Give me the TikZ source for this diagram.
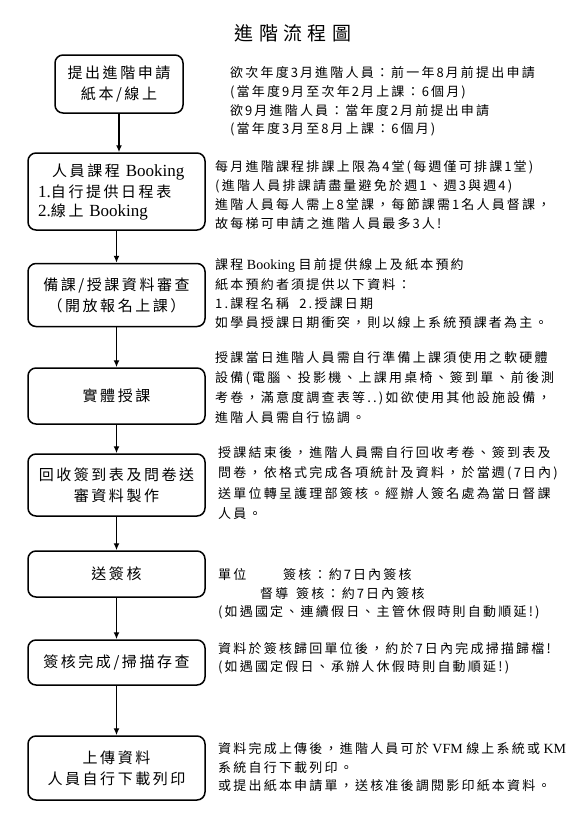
\documentclass[tikz,border=0pt]{standalone}
\usepackage{fontspec}
\setmainfont[LetterSpace=17]{Noto Sans CJK TC}
\newfontfamily\titlefont[LetterSpace=28]{Noto Sans CJK TC}
\newfontfamily\lat{Liberation Serif}
\usetikzlibrary{arrows.meta}
\newcommand\gp{\hspace{2pt}}
\begin{document}
\begin{tikzpicture}[x=1pt,y=-1pt,
  box/.style={draw=black, line width=1.5pt, rounded corners=8pt, inner sep=0pt,
    align=center, minimum width=177pt, font=\fontsize{15}{21}\selectfont},
  txt/.style={anchor=west, inner sep=0pt, font=\fontsize{13}{19}\selectfont},
  btxt/.style={anchor=west, inner sep=0pt, font=\fontsize{15}{21}\selectfont},
  arr/.style={line width=1.5pt, -{Latex[length=7pt,width=6pt]}}]
\useasboundingbox (0,0) rectangle (569,822);

\node[font=\titlefont\fontsize{19}{19}\selectfont, inner sep=0pt] (title) at (293,33) {進階流程圖};

% boxes
\node[box, minimum width=128pt, minimum height=58pt] (b1) at (119,84) {提出進階申請\\紙本/線上};
\node[box, minimum height=77pt] (b2) at (116.5,191.5) {};
\node[btxt] (b2a) at (52,172) {人員課程 {\lat\fontsize{17}{21}\selectfont Booking}};
\node[btxt] (b2b) at (38,192) {{\lat\fontsize{17}{21}\selectfont 1.}自行提供日程表};
\node[btxt] (b2c) at (38,212) {{\lat\fontsize{17}{21}\selectfont 2.}線上 {\lat\fontsize{17}{21}\selectfont Booking}};
\node[box, minimum height=63pt] (b3) at (116.5,295) {備課/授課資料審查\\（開放報名上課）};
\node[box, minimum height=56pt] (b4) at (116.5,396) {實體授課};
\node[box, minimum height=62pt] (b5) at (116.5,485) {回收簽到表及問卷送\\審資料製作};
\node[box, minimum height=46pt] (b6) at (116.5,574) {送簽核};
\node[box, minimum height=45pt] (b7) at (116.5,662.5) {簽核完成/掃描存查};
\node[box, minimum height=64pt] (b8) at (116.5,768) {上傳資料\\人員自行下載列印};

% arrows
\draw[arr] (b1.south) -- (b1.south |- b2.north);
\draw[arr] (b2.south) -- (b3.north);
\draw[arr] (b3.south) -- (b4.north);
\draw[arr] (b4.south) -- (b5.north);
\draw[arr] (b5.south) -- (b6.north);
\draw[arr] (b6.south) -- (b7.north);
\draw[arr] (b7.south) -- (b8.north);

% block 1
\node[txt] (t1a) at (230,73) {欲次年度\gp{}3\gp{}月進階人員\gp{}：前一年\gp{}8\gp{}月前提出申請};
\node[txt] (t1b) at (230,92) {(\gp{}當年度\gp{}9\gp{}月至次年\gp{}2\gp{}月上課：6\gp{}個月\gp{})};
\node[txt] (t1c) at (230,111) {欲\gp{}9\gp{}月進階人員\gp{}：當年度\gp{}2\gp{}月前提出申請};
\node[txt] (t1d) at (230,129) {(\gp{}當年度\gp{}3\gp{}月至\gp{}8\gp{}月上課：6\gp{}個月\gp{})};
% block 2
\node[txt] (t2a) at (215,167) {每月進階課程排課上限為\gp{}4\gp{}堂(每週僅可排課\gp{}1\gp{}堂)};
\node[txt] (t2b) at (215,186) {(進階人員排課請盡量避免於週\gp{}1、週\gp{}3\gp{}與週\gp{}4)};
\node[txt] (t2c) at (215,205) {進階人員每人需上\gp{}8\gp{}堂課，每節課需\gp{}1\gp{}名人員督課，};
\node[txt] (t2d) at (215,224) {故每梯可申請之進階人員最多\gp{}3\gp{}人!};
% block 3
\node[txt] (t3a) at (215,266) {課程{\lat\fontsize{14}{19}\selectfont\ Booking\ }目前提供線上及紙本預約};
\node[txt] (t3b) at (215,285) {紙本預約者須提供以下資料：};
\node[txt] (t3c) at (215,304) {1.課程名稱\ \ 2.授課日期};
\node[txt] (t3d) at (215,323) {如學員授課日期衝突，則以線上系統預課者為主。};
% block 4
\node[txt] (t4a) at (215,358) {授課當日進階人員需自行準備上課須使用之軟硬體};
\node[txt] (t4b) at (215,378) {設備(電腦、投影機、上課用桌椅、簽到單、前後測};
\node[txt] (t4c) at (215,398) {考卷，滿意度調查表等..)如欲使用其他設施設備，};
\node[txt] (t4d) at (215,418) {進階人員需自行協調。};
% block 5
\node[txt] (t5a) at (218,453) {授課結束後，進階人員需自行回收考卷、簽到表及};
\node[txt] (t5b) at (218,473) {問卷，依格式完成各項統計及資料，於當週(7\gp{}日內)};
\node[txt] (t5c) at (218,494) {送單位轉呈護理部簽核。經辦人簽名處為當日督課};
\node[txt] (t5d) at (218,514) {人員。};
% block 6
\node[txt] (t6a) at (218,575) {單位};
\node[txt] (t6b) at (283,575) {簽核：約\gp{}7\gp{}日內簽核};
\node[txt] (t6c) at (260,594) {督導};
\node[txt] (t6d) at (296,594) {簽核：約\gp{}7\gp{}日內簽核};
\node[txt] (t6e) at (218,612) {(\gp{}如遇國定、連續假日、主管休假時則自動順延!)};
% block 7
\node[txt] (t7a) at (218,649) {資料於簽核歸回單位後，約於\gp{}7\gp{}日內完成掃描歸檔!};
\node[txt] (t7b) at (218,667) {(\gp{}如遇國定假日、承辦人休假時則自動順延!)};
% block 8
\node[txt] (t8a) at (218,749) {資料完成上傳後，進階人員可於{\lat\fontsize{14}{19}\selectfont\ VFM\ }線上系統或{\lat\fontsize{14}{19}\selectfont\ KM}};
\node[txt] (t8b) at (218,768) {系統自行下載列印。};
\node[txt] (t8c) at (218,786) {或提出紙本申請單，送核准後調閱影印紙本資料。};
\end{tikzpicture}
\end{document}
